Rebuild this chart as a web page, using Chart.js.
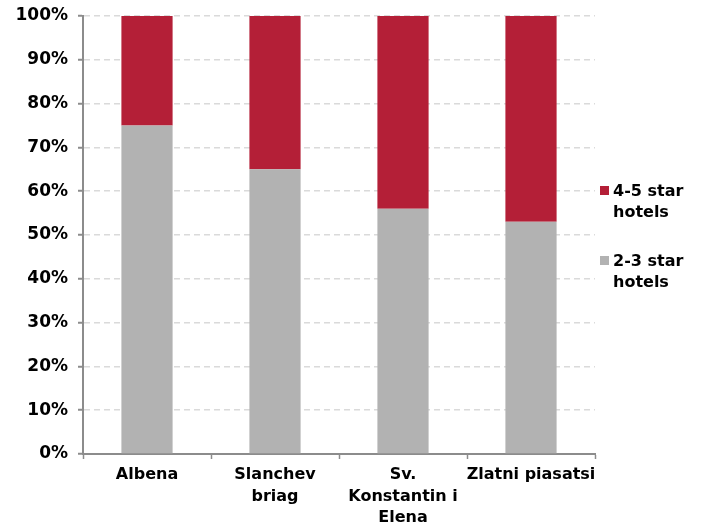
<!DOCTYPE html>
<html>
<head>
<meta charset="utf-8">
<script src="https://cdn.jsdelivr.net/npm/chart.js@4"></script>
<style>
  html, body { margin: 0; padding: 0; background: #fff; }
  #wrap { position: relative; width: 702px; height: 522px; }
  #legend { position: absolute; left: 600px; top: 180px; font: bold 16px "DejaVu Sans", Verdana, sans-serif; color: #000; }
  .item { position: relative; padding-left: 13px; line-height: 21px; }
  .item .box { position: absolute; left: 0; top: 6px; width: 9px; height: 9px; }
  .item + .item { margin-top: 28px; }
</style>
</head>
<body>
<div id="wrap">
  <canvas id="chart" width="702" height="522"></canvas>
  <div id="legend"></div>
</div>
<script>
// Resort categories (multi-line labels as in the original)
const resorts = [['Albena'], ['Slanchev', 'briag'], ['Sv.', 'Konstantin i', 'Elena'], ['Zlatni piasatsi']];
// Share of hotels by category, %
const lowStar = [75, 65, 56, 53];
const highStar = [25, 35, 44, 47];
const seriesNames = ['2-3 star hotels', '4-5 star hotels'];
const seriesLegend = [['4-5 star', 'hotels'], ['2-3 star', 'hotels']];

const gray = '#b2b2b2';
const red = '#b41f37';
const fontFamily = '"DejaVu Sans", Verdana, sans-serif';

const chart = new Chart(document.getElementById('chart'), {
    type: 'bar',
    data: {
        labels: resorts,
        datasets: [
            { label: seriesNames[0], data: lowStar, backgroundColor: gray },
            { label: seriesNames[1], data: highStar, backgroundColor: red }
        ]
    },
    options: {
        responsive: false,
        animation: false,
        layout: { padding: { top: 16, right: 107, left: 0, bottom: 0 } },
        datasets: { bar: { barPercentage: 0.4, categoryPercentage: 1 } },
        plugins: { legend: { display: false }, tooltip: { enabled: false } },
        scales: {
            x: {
                stacked: true,
                offset: true,
                grid: { offset: true, drawOnChartArea: false, drawTicks: true, tickLength: 5, tickColor: '#8c8c8c', tickWidth: 1.5 },
                border: { color: '#8c8c8c', width: 2 },
                ticks: { color: '#000', font: { family: fontFamily, size: 16, weight: 'bold', lineHeight: 1.35 }, padding: 5, maxRotation: 0, autoSkip: false },
                afterFit: s => { s.height = 68; s.paddingLeft = 0; s.paddingRight = 0; }
            },
            y: {
                stacked: true,
                min: 0,
                max: 100,
                grid: { color: '#dadada', lineWidth: 1.5, tickLength: 5, tickColor: '#8c8c8c', tickWidth: 2, tickBorderDash: [] },
                border: { color: '#8c8c8c', width: 2, dash: [6, 4] },
                ticks: { stepSize: 10, color: '#000', font: { family: fontFamily, size: 17, weight: 'bold' }, padding: 10, callback: v => v + '%' },
                afterFit: s => { s.width = 83; s.paddingTop = 0; s.paddingBottom = 0; }
            }
        }
    }
});

// HTML legend (top: 4-5 star, bottom: 2-3 star)
const legendColors = [red, gray];
document.getElementById('legend').innerHTML = seriesLegend.map((lines, i) =>
    `<div class="item"><span class="box" style="background:${legendColors[i]}"></span>${lines.join('<br>')}</div>`
).join('');
</script>
</body>
</html>
